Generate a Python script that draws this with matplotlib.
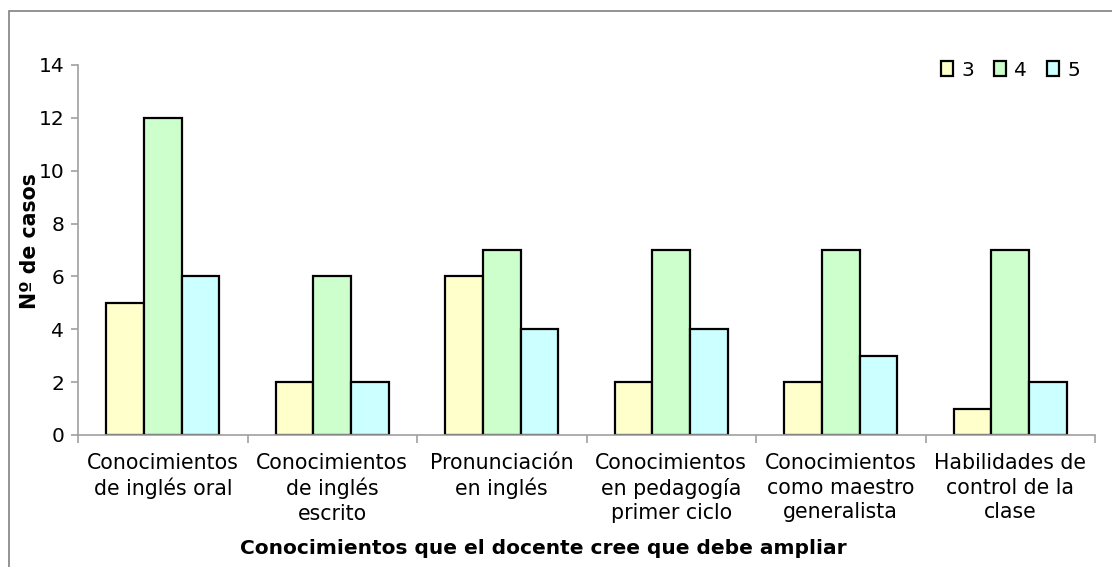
import matplotlib
matplotlib.use("Agg")
import matplotlib.pyplot as plt
import numpy as np
from matplotlib.patches import Rectangle

categories = ["Conocimientos\nde inglés oral", "Conocimientos\nde inglés\nescrito",
              "Pronunciación\nen inglés", "Conocimientos\nen pedagogía\nprimer ciclo",
              "Conocimientos\ncomo maestro\ngeneralista", "Habilidades de\ncontrol de la\nclase"]
series_names = ["3", "4", "5"]
s3 = [5, 2, 6, 2, 2, 1]
s4 = [12, 6, 7, 7, 7, 7]
s5 = [6, 2, 4, 4, 3, 2]
colors = ["#FFFFCC", "#CCFFCC", "#CCFFFF"]

W, H = 1112, 567
plt.rcParams['font.family'] = ['DejaVu Sans']
fig = plt.figure(figsize=(W/100, H/100), dpi=100)

# outer frame (left/top visible)
fig.patches.append(Rectangle((9/W, -0.1), 1.2, 1 - 11/H + 0.1, transform=fig.transFigure,
                             fill=False, edgecolor="#808080", linewidth=1.2))

ax = fig.add_axes([78/W, 1 - 435/H, (1095-78)/W, (435-65)/H])
x = np.arange(len(categories))
bw = 0.222
for i, (vals, c, n) in enumerate(zip([s3, s4, s5], colors, series_names)):
    ax.bar(x + (i-1)*bw, vals, bw, color=c, edgecolor="black", linewidth=1.6, label=n)

ax.set_xlim(-0.5, len(categories)-0.5)
ax.set_ylim(0, 14)
ax.set_yticks(range(0, 15, 2))
ax.set_xticks(x)
ax.set_xticklabels(categories, fontsize=14.8, linespacing=1.28)
ax.set_xticks(np.arange(-0.5, len(categories), 1), minor=True)
ax.tick_params(axis='x', which='major', length=0, pad=13)
ax.tick_params(axis='x', which='minor', length=6, color="#A0A0A0", width=1.2, direction='out')
ax.tick_params(axis='y', labelsize=14.5, length=5, color="#A0A0A0", width=1.2, pad=5)
for s in ['top', 'right']:
    ax.spines[s].set_visible(False)
for s in ['left', 'bottom']:
    ax.spines[s].set_color("#A0A0A0")
    ax.spines[s].set_linewidth(1.2)

fig.text(30/W, 1 - 241/H, "Nº de casos", fontsize=14.8, fontweight='bold',
         rotation=90, ha='center', va='center')
fig.text(543/W, 1 - 548/H, "Conocimientos que el docente cree que debe ampliar",
         fontsize=14.5, fontweight='bold', ha='center', va='center')

ax.legend(loc='center right', bbox_to_anchor=(1090/W, 1 - 70/H), bbox_transform=fig.transFigure,
          ncol=3, frameon=False, fontsize=14.5, handlelength=0.6, handleheight=0.7,
          handletextpad=0.4, columnspacing=1.0, borderpad=0)

fig.savefig("out.png", dpi=100)
